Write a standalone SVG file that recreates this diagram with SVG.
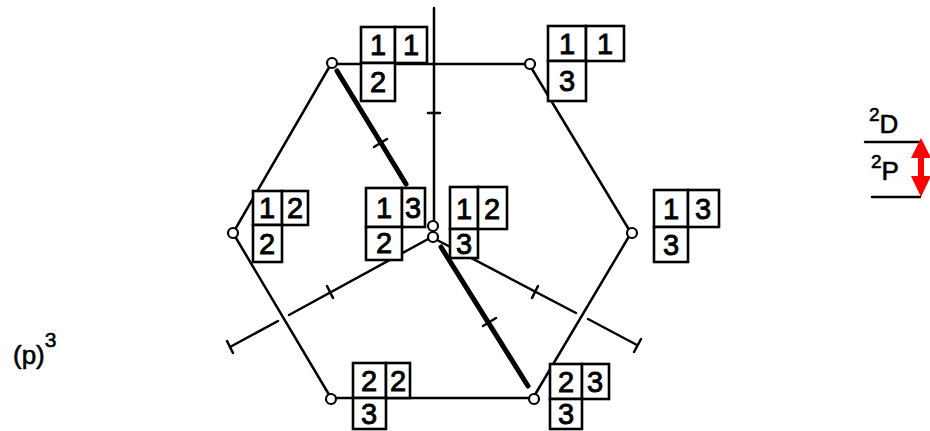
<svg xmlns="http://www.w3.org/2000/svg" width="930" height="431" viewBox="0 0 930 431">
<style>
.ln{stroke:#000;stroke-width:2.5;fill:none;stroke-linecap:round}
.thick{stroke:#000;stroke-width:5;fill:none;stroke-linecap:round}
.v{fill:#fff;stroke:#000;stroke-width:2.2}
.cell{fill:#fff;stroke:#000;stroke-width:2.6}
.d{font-family:"Liberation Sans",Arial,sans-serif;font-size:29px;fill:#000;stroke:#000;stroke-width:0.9;text-anchor:middle}
.lbl{font-family:"Liberation Sans",Arial,sans-serif;fill:#000;stroke:#000;stroke-width:0.6}
</style>
<rect width="930" height="431" fill="#fff"/>
<g id="connectors">
  <line class="ln" x1="331" y1="64" x2="529" y2="64"/>
  <line class="ln" x1="529" y1="64" x2="631" y2="233"/>
  <line class="ln" x1="631" y1="233" x2="533" y2="398"/>
  <line class="ln" x1="533" y1="398" x2="331" y2="398"/>
  <line class="ln" x1="331" y1="398" x2="233" y2="233"/>
  <line class="ln" x1="233" y1="233" x2="331" y2="64"/>
  <line class="ln" x1="434" y1="8" x2="434" y2="220"/>
  <line class="ln" x1="428" y1="113" x2="440" y2="113"/>
  <line class="ln" x1="430" y1="238" x2="289" y2="315"/>
  <line class="ln" x1="278" y1="321" x2="230" y2="347"/>
  <line class="ln" x1="227" y1="341" x2="233" y2="353"/>
  <line class="ln" x1="327" y1="286" x2="333" y2="298"/>
  <line class="ln" x1="437" y1="240" x2="576" y2="313"/>
  <line class="ln" x1="588" y1="319" x2="637" y2="345"/>
  <line class="ln" x1="641" y1="339" x2="634" y2="352"/>
  <line class="ln" x1="538" y1="286" x2="532" y2="298"/>
  <line class="thick" x1="337" y1="71" x2="406" y2="184"/>
  <line class="ln" x1="374" y1="147" x2="387" y2="139"/>
  <line class="thick" x1="441" y1="247" x2="528" y2="386"/>
  <line class="ln" x1="483" y1="326" x2="496" y2="318"/>
</g>
<g id="vertices">
  <circle class="v" cx="332" cy="63" r="5"/>
  <circle class="v" cx="530" cy="64" r="5"/>
  <circle class="v" cx="632" cy="233" r="5"/>
  <circle class="v" cx="534" cy="399" r="5"/>
  <circle class="v" cx="331" cy="399" r="5"/>
  <circle class="v" cx="233" cy="233" r="5"/>
  <circle class="v" cx="433" cy="226" r="5"/>
  <circle class="v" cx="433" cy="237" r="5"/>
</g>
<g id="t-11-2">
  <rect class="cell" x="361" y="27" width="34" height="36"/>
  <rect class="cell" x="395" y="27" width="32" height="36"/>
  <rect class="cell" x="361" y="63" width="34" height="38"/>
  <text class="d" x="378" y="55">1</text><text class="d" x="411" y="55">1</text><text class="d" x="378" y="92">2</text>
</g>
<g id="t-11-3">
  <rect class="cell" x="548" y="26" width="38" height="35"/>
  <rect class="cell" x="586" y="26" width="38" height="35"/>
  <rect class="cell" x="548" y="61" width="38" height="40"/>
  <text class="d" x="567" y="54">1</text><text class="d" x="605" y="54">1</text><text class="d" x="567" y="91">3</text>
</g>
<g id="t-12-2">
  <rect class="cell" x="253" y="191" width="29" height="34"/>
  <rect class="cell" x="282" y="191" width="26" height="34"/>
  <rect class="cell" x="253" y="225" width="29" height="37"/>
  <text class="d" x="267" y="218">1</text><text class="d" x="295" y="218">2</text><text class="d" x="267" y="254">2</text>
</g>
<g id="t-13-2">
  <rect class="cell" x="366" y="188" width="36" height="39"/>
  <rect class="cell" x="402" y="188" width="23" height="39"/>
  <rect class="cell" x="366" y="227" width="36" height="33"/>
  <text class="d" x="384" y="218">1</text><text class="d" x="413" y="218">3</text><text class="d" x="384" y="253">2</text>
</g>
<g id="t-12-3">
  <rect class="cell" x="450" y="187" width="28" height="42"/>
  <rect class="cell" x="478" y="187" width="29" height="42"/>
  <rect class="cell" x="450" y="229" width="28" height="29"/>
  <text class="d" x="464" y="219">1</text><text class="d" x="492" y="219">2</text><text class="d" x="464" y="254">3</text>
</g>
<g id="t-13-3">
  <rect class="cell" x="654" y="190" width="34" height="37"/>
  <rect class="cell" x="688" y="190" width="31" height="37"/>
  <rect class="cell" x="654" y="227" width="34" height="35"/>
  <text class="d" x="671" y="219">1</text><text class="d" x="703" y="219">3</text><text class="d" x="671" y="255">3</text>
</g>
<g id="t-22-3">
  <rect class="cell" x="353" y="363" width="33" height="35"/>
  <rect class="cell" x="386" y="363" width="24" height="35"/>
  <rect class="cell" x="353" y="398" width="33" height="31"/>
  <text class="d" x="369" y="391">2</text><text class="d" x="398" y="391">2</text><text class="d" x="369" y="424" font-size="26">3</text>
</g>
<g id="t-23-3">
  <rect class="cell" x="550" y="364" width="32" height="35"/>
  <rect class="cell" x="582" y="364" width="27" height="35"/>
  <rect class="cell" x="550" y="399" width="32" height="30"/>
  <text class="d" x="566" y="392">2</text><text class="d" x="595" y="392">3</text><text class="d" x="566" y="424" font-size="26">3</text>
</g>
<g id="label-p3">
  <text class="lbl" x="13" y="364" font-size="26">(p)<tspan font-size="21" dy="-17">3</tspan></text>
</g>
<g id="levels">
  <text class="lbl" x="869" y="133" font-size="26"><tspan font-size="19" dy="-12">2</tspan><tspan dy="12">D</tspan></text>
  <line class="ln" x1="865" y1="142" x2="920" y2="142"/>
  <text class="lbl" x="871" y="180" font-size="26"><tspan font-size="19" dy="-12">2</tspan><tspan dy="12">P</tspan></text>
  <line class="ln" x1="872" y1="197" x2="920" y2="197"/>
  <polygon fill="#ff0000" points="921,138 931,158 924,158 924,176 931,176 921,197 911,176 918,176 918,158 911,158"/>
</g>
</svg>
